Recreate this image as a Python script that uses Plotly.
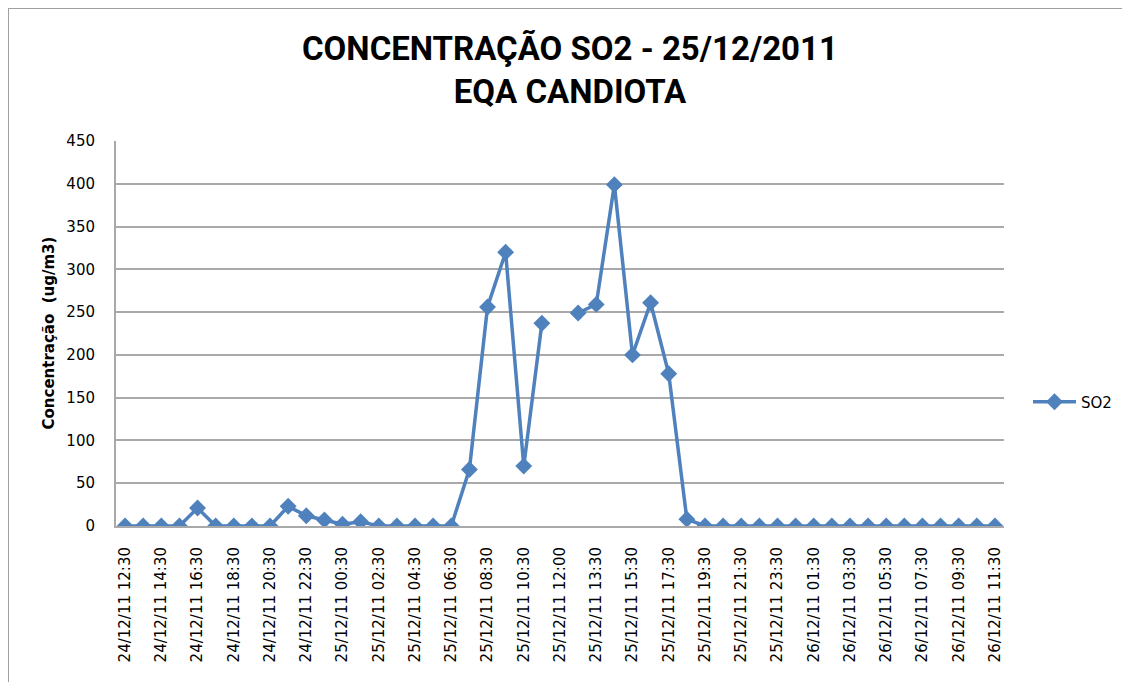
import plotly.graph_objects as go

# ---- data ----
categories = (
    [f"24/12/11 {h:02d}:30" for h in range(12, 24)]
    + [f"25/12/11 {h:02d}:30" for h in range(0, 12)]
    + ["25/12/11 12:00", "25/12/11 12:30"]
    + [f"25/12/11 {h:02d}:30" for h in range(13, 24)]
    + [f"26/12/11 {h:02d}:30" for h in range(0, 12)]
)

so2_values = [
    0, 0, 0, 0, 21, 0, 0, 0, 0, 23, 12, 7,
    2, 5, 0, 0, 0, 0, 0, 66, 256, 320, 70, 237,
    None, 249,
    259, 399, 200, 261, 178, 8, 0, 0, 0, 0, 0,
    0, 0, 0, 0, 0, 0, 0, 0, 0, 0, 0, 0,
]

tick_labels = categories[::2]
y_ticks = [0, 50, 100, 150, 200, 250, 300, 350, 400, 450]

series_name = "SO2"
title_lines = ["CONCENTRAÇÃO SO2 - 25/12/2011", "EQA CANDIOTA"]
y_title = "Concentração  (ug/m3)"

# ---- layout constants (screen pixels; page body has an 8px margin) ----
OFF = 8
W, H = 1130 - OFF, 682 - OFF
PL, PR, PT, PB = 116, 1004, 141, 526  # plot area on screen
L, T = PL - OFF, PT - OFF
R, B = W - (PR - OFF), H - (PB - OFF)
PW, PH = PR - PL, PB - PT

def px_x(p):
    return (p - PL) / PW

def px_y(p):
    return (PB - p) / PH

blue = "#4F81BD"
grid = "#A9A9A9"
tick_font = dict(family="DejaVu Sans, Liberation Sans, sans-serif", size=15, color="#000000")

fig = go.Figure()
fig.add_trace(go.Scatter(
    x=categories,
    y=so2_values,
    mode="lines+markers",
    name=series_name,
    line=dict(color=blue, width=3.5),
    marker=dict(symbol="diamond", size=13, color=blue),
    connectgaps=False,
))

fig.update_layout(
    width=W, height=H, autosize=False,
    margin=dict(l=L, r=R, t=T, b=B, pad=0),
    paper_bgcolor="white", plot_bgcolor="white",
    showlegend=True,
    legend=dict(
        x=px_x(1028), y=px_y(402), xanchor="left", yanchor="middle",
        itemwidth=43,
        font=dict(family="DejaVu Sans, sans-serif", size=15, color="#000000"),
        bgcolor="rgba(0,0,0,0)",
    ),
    annotations=[
        dict(
            text="<b>" + title_lines[0] + "</b><br><b>" + title_lines[1] + "</b>",
            x=px_x(570), y=px_y(70), xref="paper", yref="paper",
            xanchor="center", yanchor="middle", showarrow=False,
            font=dict(family="Roboto, Liberation Sans, sans-serif", size=33, color="#000000"),
        ),
        dict(
            text="<b>" + y_title + "</b>",
            x=px_x(48), y=0.5, xref="paper", yref="paper",
            xanchor="center", yanchor="middle", showarrow=False, textangle=-90,
            font=dict(family="DejaVu Sans, sans-serif", size=15, color="#000000"),
        ),
    ],
    shapes=[
        dict(
            type="rect", xref="paper", yref="paper",
            x0=px_x(8), x1=px_x(1160), y0=px_y(8), y1=px_y(720),
            line=dict(color="#A0A0A0", width=2), fillcolor="rgba(0,0,0,0)", layer="below",
        ),
    ],
)

fig.update_xaxes(
    type="category",
    categoryorder="array", categoryarray=categories,
    range=[-0.5, len(categories) - 0.5],
    tickmode="array", tickvals=tick_labels, ticktext=tick_labels,
    tickangle=-90,
    tickfont=dict(family="DejaVu Sans, sans-serif", size=15, color="#000000"),
    showgrid=False,
    showline=True, linecolor=grid, linewidth=2,
    ticks="", ticklabelstandoff=13,
    zeroline=False,
)

fig.update_yaxes(
    range=[0, 450],
    tickmode="array", tickvals=y_ticks,
    tickfont=tick_font,
    showgrid=True, gridcolor=grid, gridwidth=2,
    showline=True, linecolor=grid, linewidth=2,
    ticks="", ticklabelstandoff=16,
    zeroline=False,
)

fig.write_html("out.html")
